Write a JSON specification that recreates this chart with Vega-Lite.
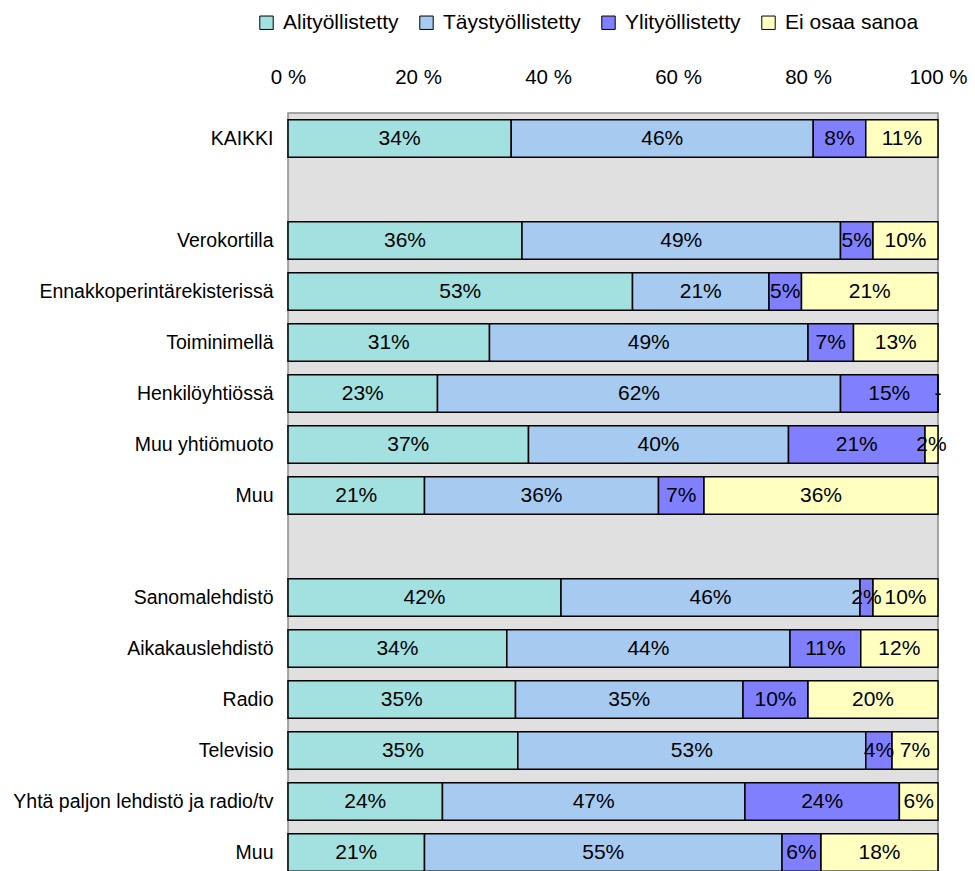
{
  "$schema": "https://vega.github.io/schema/vega-lite/v6.json",
  "autosize": "none",
  "width": 650,
  "height": 765,
  "padding": {"left": 288, "top": 113, "right": 37, "bottom": 0},
  "background": "white",
  "config": {
    "font": "Liberation Sans",
    "view": {"fill": "#e0e0e0", "stroke": "#8c8c8c", "strokeWidth": 1.5}
  },
  "datasets": {
    "rows": [
      {"key": "KAIKKI", "cat": "Alityöllistetty", "o": 1, "v": 34},
      {"key": "KAIKKI", "cat": "Täystyöllistetty", "o": 2, "v": 46},
      {"key": "KAIKKI", "cat": "Ylityöllistetty", "o": 3, "v": 8},
      {"key": "KAIKKI", "cat": "Ei osaa sanoa", "o": 4, "v": 11},
      {"key": "Verokortilla", "cat": "Alityöllistetty", "o": 1, "v": 36},
      {"key": "Verokortilla", "cat": "Täystyöllistetty", "o": 2, "v": 49},
      {"key": "Verokortilla", "cat": "Ylityöllistetty", "o": 3, "v": 5},
      {"key": "Verokortilla", "cat": "Ei osaa sanoa", "o": 4, "v": 10},
      {"key": "Ennakkoperintärekisterissä", "cat": "Alityöllistetty", "o": 1, "v": 53},
      {"key": "Ennakkoperintärekisterissä", "cat": "Täystyöllistetty", "o": 2, "v": 21},
      {"key": "Ennakkoperintärekisterissä", "cat": "Ylityöllistetty", "o": 3, "v": 5},
      {"key": "Ennakkoperintärekisterissä", "cat": "Ei osaa sanoa", "o": 4, "v": 21},
      {"key": "Toiminimellä", "cat": "Alityöllistetty", "o": 1, "v": 31},
      {"key": "Toiminimellä", "cat": "Täystyöllistetty", "o": 2, "v": 49},
      {"key": "Toiminimellä", "cat": "Ylityöllistetty", "o": 3, "v": 7},
      {"key": "Toiminimellä", "cat": "Ei osaa sanoa", "o": 4, "v": 13},
      {"key": "Henkilöyhtiössä", "cat": "Alityöllistetty", "o": 1, "v": 23},
      {"key": "Henkilöyhtiössä", "cat": "Täystyöllistetty", "o": 2, "v": 62},
      {"key": "Henkilöyhtiössä", "cat": "Ylityöllistetty", "o": 3, "v": 15},
      {"key": "Henkilöyhtiössä", "cat": "Ei osaa sanoa", "o": 4, "v": 0},
      {"key": "Muu yhtiömuoto", "cat": "Alityöllistetty", "o": 1, "v": 37},
      {"key": "Muu yhtiömuoto", "cat": "Täystyöllistetty", "o": 2, "v": 40},
      {"key": "Muu yhtiömuoto", "cat": "Ylityöllistetty", "o": 3, "v": 21},
      {"key": "Muu yhtiömuoto", "cat": "Ei osaa sanoa", "o": 4, "v": 2},
      {"key": "Muu#1", "cat": "Alityöllistetty", "o": 1, "v": 21},
      {"key": "Muu#1", "cat": "Täystyöllistetty", "o": 2, "v": 36},
      {"key": "Muu#1", "cat": "Ylityöllistetty", "o": 3, "v": 7},
      {"key": "Muu#1", "cat": "Ei osaa sanoa", "o": 4, "v": 36},
      {"key": "Sanomalehdistö", "cat": "Alityöllistetty", "o": 1, "v": 42},
      {"key": "Sanomalehdistö", "cat": "Täystyöllistetty", "o": 2, "v": 46},
      {"key": "Sanomalehdistö", "cat": "Ylityöllistetty", "o": 3, "v": 2},
      {"key": "Sanomalehdistö", "cat": "Ei osaa sanoa", "o": 4, "v": 10},
      {"key": "Aikakauslehdistö", "cat": "Alityöllistetty", "o": 1, "v": 34},
      {"key": "Aikakauslehdistö", "cat": "Täystyöllistetty", "o": 2, "v": 44},
      {"key": "Aikakauslehdistö", "cat": "Ylityöllistetty", "o": 3, "v": 11},
      {"key": "Aikakauslehdistö", "cat": "Ei osaa sanoa", "o": 4, "v": 12},
      {"key": "Radio", "cat": "Alityöllistetty", "o": 1, "v": 35},
      {"key": "Radio", "cat": "Täystyöllistetty", "o": 2, "v": 35},
      {"key": "Radio", "cat": "Ylityöllistetty", "o": 3, "v": 10},
      {"key": "Radio", "cat": "Ei osaa sanoa", "o": 4, "v": 20},
      {"key": "Televisio", "cat": "Alityöllistetty", "o": 1, "v": 35},
      {"key": "Televisio", "cat": "Täystyöllistetty", "o": 2, "v": 53},
      {"key": "Televisio", "cat": "Ylityöllistetty", "o": 3, "v": 4},
      {"key": "Televisio", "cat": "Ei osaa sanoa", "o": 4, "v": 7},
      {"key": "Yhtä paljon lehdistö ja radio/tv", "cat": "Alityöllistetty", "o": 1, "v": 24},
      {"key": "Yhtä paljon lehdistö ja radio/tv", "cat": "Täystyöllistetty", "o": 2, "v": 47},
      {"key": "Yhtä paljon lehdistö ja radio/tv", "cat": "Ylityöllistetty", "o": 3, "v": 24},
      {"key": "Yhtä paljon lehdistö ja radio/tv", "cat": "Ei osaa sanoa", "o": 4, "v": 6},
      {"key": "Muu#2", "cat": "Alityöllistetty", "o": 1, "v": 21},
      {"key": "Muu#2", "cat": "Täystyöllistetty", "o": 2, "v": 55},
      {"key": "Muu#2", "cat": "Ylityöllistetty", "o": 3, "v": 6},
      {"key": "Muu#2", "cat": "Ei osaa sanoa", "o": 4, "v": 18}
    ]
  },
  "data": {"name": "rows"},
  "transform": [
    {"stack": "v", "groupby": ["key"], "sort": [{"field": "o"}], "offset": "normalize", "as": ["x0", "x1"]},
    {"calculate": "(datum.x0 + datum.x1) / 2", "as": "xm"}
  ],
  "encoding": {
    "y": {
      "field": "key",
      "type": "nominal",
      "scale": {
        "domain": ["KAIKKI", "_b1", "Verokortilla", "Ennakkoperintärekisterissä", "Toiminimellä", "Henkilöyhtiössä", "Muu yhtiömuoto", "Muu#1", "_b2", "Sanomalehdistö", "Aikakauslehdistö", "Radio", "Televisio", "Yhtä paljon lehdistö ja radio/tv", "Muu#2"],
        "paddingInner": 0.26,
        "paddingOuter": 0.13
      },
      "axis": {
        "title": null,
        "ticks": false,
        "domain": false,
        "labelPadding": 15,
        "labelFontSize": 19.5,
        "labelColor": "#000000",
        "labelFont": "Liberation Sans",
        "labelLimit": 400,
        "labelExpr": "indexof(datum.label, '_b') == 0 ? '' : replace(datum.label, /#.*/, '')"
      }
    }
  },
  "layer": [
    {
      "mark": {"type": "bar", "stroke": "#000000", "strokeWidth": 1.5},
      "encoding": {
        "x": {
          "field": "x0",
          "type": "quantitative",
          "scale": {"domain": [0, 1], "nice": false},
          "axis": {
            "orient": "top",
            "title": null,
            "values": [0, 0.2, 0.4, 0.6, 0.8, 1],
            "labelExpr": "round(datum.value * 100) + ' %'",
            "ticks": false,
            "domain": false,
            "grid": false,
            "labelPadding": 26,
            "labelFontSize": 20.5,
            "labelColor": "#000000",
            "labelFont": "Liberation Sans",
            "labelFlush": false
          }
        },
        "x2": {"field": "x1"},
        "fill": {
          "field": "cat",
          "type": "nominal",
          "sort": ["Alityöllistetty", "Täystyöllistetty", "Ylityöllistetty", "Ei osaa sanoa"],
          "scale": {
            "domain": ["Alityöllistetty", "Täystyöllistetty", "Ylityöllistetty", "Ei osaa sanoa"],
            "range": ["#a3e0e0", "#a6caf0", "#8080ff", "#ffffc0"]
          },
          "legend": {
            "title": null,
            "orient": "none",
            "direction": "horizontal",
            "legendX": -32,
            "legendY": -101,
            "symbolType": "square",
            "symbolSize": 180,
            "symbolStrokeColor": "#000000",
            "symbolStrokeWidth": 1,
            "labelFontSize": 21,
            "labelFont": "Liberation Sans",
            "labelColor": "#000000",
            "columnPadding": 17,
            "labelOffset": 6,
            "labelLimit": 300
          }
        }
      }
    },
    {
      "mark": {"type": "text", "fontSize": 21, "font": "Liberation Sans", "color": "#000000", "align": "center", "baseline": "middle"},
      "encoding": {
        "x": {"field": "xm", "type": "quantitative"},
        "text": {"value": {"expr": "datum.v == 0 ? '-' : datum.v + '%'"}}
      }
    }
  ]
}
